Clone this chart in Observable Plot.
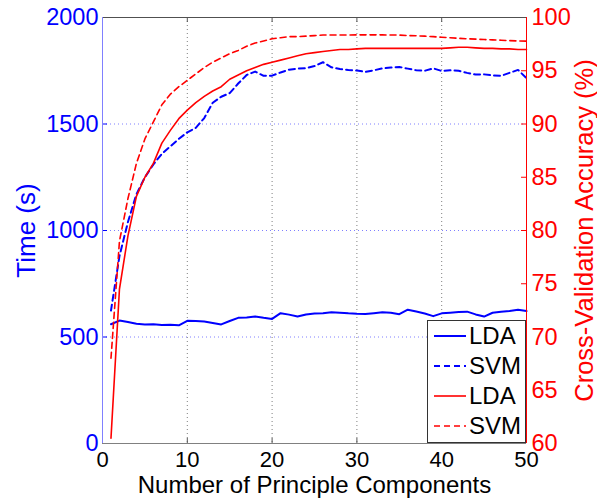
<!DOCTYPE html>
<html><head><meta charset="utf-8">
<script src="https://cdn.jsdelivr.net/npm/d3@7"></script>
<script src="https://cdn.jsdelivr.net/npm/@observablehq/plot@0.6"></script>
<style>
body{margin:0;background:#fff;}
#wrap{position:relative;width:597px;height:498px;background:#fff;}
.legend{position:absolute;left:427px;top:320px;width:97px;height:121px;border:1px solid #333;background:#fff;font-family:"Liberation Sans",Arial,sans-serif;font-size:24px;color:#000;}
.row{position:absolute;left:0;height:30px;display:flex;align-items:center;}
.row svg{display:block;}
.row span{margin-left:3px;line-height:30px;}
</style>
</head><body>
<div id="wrap"></div>
<script>
// Data
const components = [1,2,3,4,5,6,7,8,9,10,11,12,13,14,15,16,17,18,19,20,21,22,23,24,25,26,27,28,29,30,31,32,33,34,35,36,37,38,39,40,41,42,43,44,45,46,47,48,49,50];
const timeLDA = [560,577,570,562,559,560,556,558,555,576, 575,573,566,559,575,590,592,596,590,585, 612,605,596,606,610,612,616,614,611,609, 608,612,616,614,607,628,620,610,598,611, 614,617,619,606,596,614,619,622,628,622];
const timeSVM = [624,880,1040,1170,1250,1310,1360,1395,1430,1461, 1482,1528,1600,1628,1645,1690,1730,1746,1726,1727, 1742,1755,1760,1762,1772,1790,1766,1758,1754,1751, 1745,1752,1761,1765,1768,1760,1752,1750,1761,1749, 1752,1750,1740,1732,1733,1728,1726,1740,1754,1715];
const accLDA = [60.5,74.5,79.5,83.2,85,86.3,88.2,89.4,90.5,91.3, 92,92.6,93.1,93.5,94.2,94.6,95,95.3,95.6,95.8, 96,96.2,96.4,96.6,96.7,96.8,96.9,97,97,97.05, 97.1,97.1,97.1,97.1,97.1,97.1,97.1,97.1,97.1,97.1, 97.15,97.2,97.2,97.15,97.1,97.1,97.05,97.05,97,97];
const accSVM = [68,79,83,86.3,88.6,90.2,91.8,92.8,93.5,94.1, 94.7,95.3,95.8,96.2,96.6,96.9,97.3,97.6,97.8,98, 98.1,98.2,98.2,98.25,98.3,98.35,98.35,98.35,98.35,98.37, 98.37,98.37,98.37,98.35,98.35,98.3,98.28,98.25,98.2,98.15, 98.1,98.05,98,97.97,97.93,97.9,97.87,97.83,97.8,97.78];
const xTicks = [0,10,20,30,40,50];
const timeTicks = [0,500,1000,1500,2000];
const accTicks = [60,65,70,75,80,85,90,95,100];
const timeGrid = [500,1000,1500];
const xGrid = [10,20,30,40];
const xLabel = "Number of Principle Components";
const yLabelLeft = "Time (s)";
const yLabelRight = "Cross-Validation Accuracy (%)";
const legendItems = [
  {label:"LDA", color:"#0000ff", dash:null, w:2},
  {label:"SVM", color:"#0000ff", dash:"6,4", w:2},
  {label:"LDA", color:"#ff0000", dash:null, w:1.6},
  {label:"SVM", color:"#ff0000", dash:"6,4", w:1.6}
];

// map accuracy (60..100) onto the time scale (0..2000)
const accMin = 60, accMax = 100, tMin = 0, tMax = 2000;
const acc2t = a => (a - accMin) / (accMax - accMin) * (tMax - tMin) + tMin;
const t2acc = t => (t - tMin) / (tMax - tMin) * (accMax - accMin) + accMin;

const rows = components.map((x, i) => ({x, tL: timeLDA[i], tS: timeSVM[i], aL: acc2t(accLDA[i]), aS: acc2t(accSVM[i])}));

const font = "'Liberation Sans', Arial, Helvetica, sans-serif";
const chart = Plot.plot({
  width: 597, height: 498,
  marginLeft: 102, marginRight: 71, marginTop: 17, marginBottom: 55,
  x: {domain: [0, 50]},
  y: {domain: [tMin, tMax]},
  style: {fontFamily: font, fontSize: "24px", background: "#fff", overflow: "visible"},
  marks: [
    Plot.gridY(timeGrid, {stroke: "#7f7fff", strokeOpacity: 1, strokeDasharray: "1,3"}),
    Plot.gridX(xGrid, {stroke: "#7f7f7f", strokeOpacity: 1, strokeDasharray: "1,3"}),
    // inside ticks
    Plot.tickX(xTicks, {x: d => d, stroke: "#555", insetTop: 421}),
    Plot.tickX(xTicks, {x: d => d, stroke: "#555", insetBottom: 421}),
    Plot.tickY(timeTicks, {y: d => d, stroke: "#0000ff", insetRight: 419}),
    Plot.tickY(accTicks.map(acc2t), {y: d => d, stroke: "#ff0000", insetLeft: 419}),
    // data lines
    Plot.line(rows, {x: "x", y: "tL", stroke: "#0000ff", strokeWidth: 2}),
    Plot.line(rows, {x: "x", y: "tS", stroke: "#0000ff", strokeWidth: 2, strokeDasharray: "6,4"}),
    Plot.line(rows, {x: "x", y: "aL", stroke: "#ff0000", strokeWidth: 1.6}),
    Plot.line(rows, {x: "x", y: "aS", stroke: "#ff0000", strokeWidth: 1.6, strokeDasharray: "6,4"}),
    // box
    Plot.ruleY([tMin], {stroke: "#808080"}),
    Plot.ruleY([tMax], {stroke: "#505050"}),
    Plot.ruleX([0], {stroke: "#8080ff"}),
    Plot.ruleX([50], {stroke: "#ff0000"}),
    // axes
    Plot.axisX(xTicks, {anchor: "bottom", tickSize: 0, tickPadding: 8, label: null, fill: "#000", fontSize: 22, tickFormat: d => String(d)}),
    Plot.axisY(timeTicks, {anchor: "left", tickSize: 0, tickPadding: 4, label: null, fill: "#0000ff", fontSize: 23.5, tickFormat: d => String(d)}),
    Plot.axisY(accTicks.map(acc2t), {anchor: "right", tickSize: 0, tickPadding: 5, label: null, fill: "#ff0000", fontSize: 23.5, tickFormat: d => String(Math.round(t2acc(d)))}),
    // axis labels
    Plot.text([xLabel], {text: d => d, frameAnchor: "bottom", lineAnchor: "middle", textAnchor: "middle", dy: 42, fill: "#000", fontSize: 24}),
    Plot.text([yLabelLeft], {text: d => d, frameAnchor: "left", lineAnchor: "middle", textAnchor: "middle", rotate: -90, dx: -76, fill: "#0000ff", fontSize: 26}),
    Plot.text([yLabelRight], {text: d => d, frameAnchor: "right", lineAnchor: "middle", textAnchor: "middle", rotate: -90, dx: 58, fill: "#ff0000", fontSize: 25.5})
  ]
});
const wrap = document.getElementById("wrap");
wrap.appendChild(chart);

// legend
const lg = document.createElement("div");
lg.className = "legend";
legendItems.forEach((it, i) => {
  const r = document.createElement("div");
  r.className = "row";
  r.style.top = (i * 30) + "px";
  r.innerHTML = `<svg width="38" height="30"><line x1="6" x2="38" y1="15" y2="15" stroke="${it.color}" stroke-width="${it.w}" ${it.dash ? `stroke-dasharray="${it.dash}"` : ""}/></svg><span>${it.label}</span>`;
  lg.appendChild(r);
});
wrap.appendChild(lg);
</script>
</body></html>
